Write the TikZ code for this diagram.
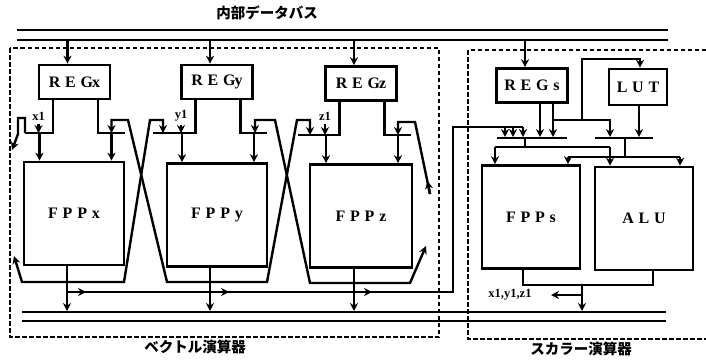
\documentclass[tikz,border=0pt]{standalone}
\usepackage{fontspec}
\setmainfont{Liberation Serif}
\newfontfamily\jpfont{Noto Sans CJK JP}
\newfontfamily\spfont[LetterSpace=30]{Liberation Serif}
\usetikzlibrary{arrows.meta}
\tikzset{
  blk/.style={draw, line width=2.6pt, inner sep=0pt, font=\spfont\bfseries\fontsize{16}{18}\selectfont},
  regb/.style={blk, minimum width=71pt, minimum height=34pt},
  fppb/.style={blk, minimum width=100pt, minimum height=103pt},
  wire/.style={line width=2.4pt},
  arr/.style={wire, -{Stealth[length=8pt,width=8pt]}},
  both/.style={wire, {Stealth[length=8pt,width=8pt]}-{Stealth[length=8pt,width=8pt]}},
  bus/.style={line width=2.2pt},
  grp/.style={line width=2.2pt, dash pattern=on 4.5pt off 2.5pt},
  jp/.style={font=\jpfont\bfseries\fontsize{14.5}{16}\selectfont},
  sm/.style={font=\bfseries\fontsize{12.5}{14}\selectfont},
}
\begin{document}
\begin{tikzpicture}[x=1pt, y=-1pt]
  \useasboundingbox (0,0) rectangle (706,362);
  % groups and buses
  \draw[grp] (10,48) rectangle (439,337);
  \draw[grp] (706,50) -- (468,50) -- (468,339) -- (706,339);
  \node[jp] (title) at (267,13) {内部データバス};
  \node[jp] (vec) at (195,347) {ベクトル演算器};
  \node[jp] (sca) at (581,349) {スカラー演算器};
  \draw[bus] (17,30) -- (668,30);
  \draw[bus] (17,40) -- (668,40);
  \draw[bus] (22,312) -- (666,312);
  \draw[bus] (22,321) -- (666,321);
  % blocks
  \node[regb] (REGx) at (74.5,82) {REG\kern-1pt x};
  \node[regb] (REGy) at (217,82) {REG\kern-1pt y};
  \node[regb] (REGz) at (361,83.5) {REG\kern-1pt z};
  \node[regb] (REGs) at (532,85.5) {REGs};
  \node[blk, minimum width=58pt, minimum height=36pt] (LUT) at (638,87) {LUT};
  \node[fppb] (FPPx) at (74,213.5) {FPPx};
  \node[fppb] (FPPy) at (217,215) {FPPy};
  \node[fppb, minimum width=102pt] (FPPz) at (361,216) {FPPz};
  \node[fppb, minimum width=98pt] (FPPs) at (531,217) {FPPs};
  \node[fppb, minimum width=98pt] (ALU) at (644,218.5) {ALU};
  % bus to registers
  \foreach \u in {x,y,z,s}
    \draw[arr] ([xshift=-7pt]REG\u.north |- 0,40) -- ([xshift=-7pt]REG\u.north);
  % vector units
  \foreach \u/\c/\jy/\le in {x/74.5/133/25, y/217/133/153, z/361/135/298}{
    \draw[wire] (\c-21.5,0 |- REG\u.south) -- (\c-21.5,\jy) -- (\le,\jy);
    \draw[wire] (\c+23.5,0 |- REG\u.south) -- (\c+23.5,\jy) -- (\c+50,\jy);
    \node[sm] (in\u) at (\c-36,116) {\u1};
    \draw[arr] (in\u.south) -- (in\u.south |- 0,\jy);
    \draw[arr] (\c-35,\jy) -- (\c-35,0 |- FPP\u.north);
    \draw[arr] (\c+37,\jy) -- (\c+37,0 |- FPP\u.north);
    \draw[arr] ([xshift=-7pt]FPP\u.south) -- ([xshift=-7pt]FPP\u.south |- 0,311);
  }
  % crossed links
  \draw[both] (14,256) -- (22,282) -- (124,282) -- (150,120) -- (163,120) -- (163,133);
  \draw[both] (111.5,133) -- (111.5,120) -- (128,120) -- (167,282) -- (267,282)
    -- (297,120) -- (310,120) -- (310,135);
  \draw[both] (255,133) -- (255,120) -- (275,120) -- (310,283) -- (410,283) -- (426,246);
  \draw[arr] (25,133) -- (25,118) -- (18,118) -- (18,134) -- (12,150);
  \draw[arr] (430,194) -- (415,122) -- (398,122) -- (398,135);
  \draw[arr] (430,194) -- (427.5,181);
  % results to scalar side
  \draw[wire] (67,292) -- (453,292) -- (453,127) -- (523,127);
  \foreach \x in {86,229,372}
    \draw[arr] (\x-12,292) -- (\x,292);
  \foreach \x in {505,513,523}
    \draw[arr] (\x,127) -- (\x,137);
  % scalar unit
  \draw[wire] (497,138) -- (567,138);
  \draw[wire] (595,138) -- (653,138);
  \draw[arr] (540,0 |- REGs.south) -- (540,137);
  \draw[arr] (553,0 |- REGs.south) -- (553,137);
  \draw[arr] (553,120) -- (610,120) -- (610,137);
  \draw[arr] (582,120) -- (582,59) -- (640,59) -- (640,0 |- LUT.north);
  \draw[arr] (639,0 |- LUT.south) -- (639,137);
  \draw[wire] (525,138) -- (525,147);
  \draw[wire] (495,147) -- (610,147);
  \draw[arr] (495,147) -- (495,0 |- FPPs.north);
  \draw[arr] (610,147) -- (610,0 |- ALU.north);
  \draw[wire] (625,138) -- (625,157);
  \draw[wire] (568,157) -- (680,157);
  \draw[arr] (568,157) -- (568,0 |- FPPs.north);
  \draw[arr] (680,157) -- (680,0 |- ALU.north);
  \draw[wire] (523,0 |- FPPs.south) -- (523,285) -- (653,285) -- (653,0 |- ALU.south);
  \draw[arr] (582,285) -- (582,311);
  \draw[arr] (582,295) -- (551,295);
  \node[sm] (out) at (510,295) {x1,y1,z1};
\end{tikzpicture}
\end{document}
